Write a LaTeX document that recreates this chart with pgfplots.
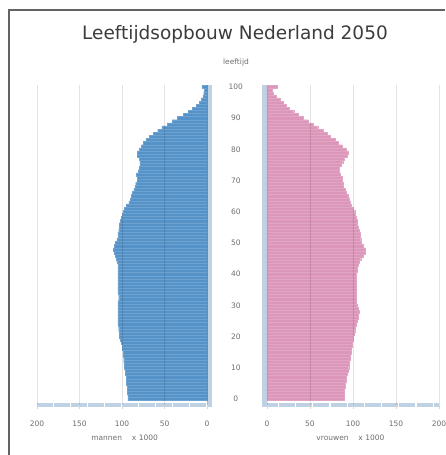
\documentclass[border=0pt]{standalone}
\usepackage{fontspec}
\setmainfont{DejaVu Sans}
\usepackage{pgfplots}
\pgfplotsset{compat=1.18}
\usepackage{pgfplotstable}

\definecolor{manblue}{RGB}{84,146,200}
\definecolor{vrouwroze}{RGB}{220,150,185}
\definecolor{strook}{RGB}{190,210,228}
\definecolor{rasters}{RGB}{215,215,215}
\definecolor{titelgrijs}{RGB}{60,60,60}
\definecolor{labelgrijs}{RGB}{110,110,110}

% leeftijd, mannen, vrouwen (x 1000)
\pgfplotstableread{
leeftijd mannen vrouwen
0 93 90
1 93 90
2 94 90
3 94 90
4 94 91
5 95 91
6 95 92
7 95 92
8 96 93
9 96 94
10 97 95
11 97 96
12 98 96
13 98 97
14 99 97
15 99 98
16 100 98
17 100 99
18 101 99
19 102 100
20 103 100
21 103 101
22 104 102
23 104 103
24 105 104
25 105 105
26 105 106
27 105 106
28 105 107
29 105 106
30 105 105
31 105 104
32 104 104
33 104 104
34 105 104
35 105 104
36 105 104
37 105 104
38 105 104
39 105 104
40 105 104
41 105 105
42 105 105
43 105 106
44 106 107
45 107 109
46 108 112
47 109 114
48 110 114
49 109 112
50 108 110
51 106 109
52 105 108
53 105 108
54 104 107
55 103 106
56 103 105
57 102 105
58 101 104
59 100 103
60 99 102
61 97 100
62 95 98
63 92 97
64 90 96
65 89 94
66 88 92
67 86 91
68 85 89
69 84 89
70 82 87
71 82 87
72 83 85
73 81 84
74 80 84
75 79 86
76 79 88
77 80 90
78 82 93
79 82 94
80 80 92
81 77 87
82 75 83
83 72 79
84 68 74
85 63 70
86 58 65
87 53 59
88 47 54
89 41 48
90 35 42
91 28 36
92 22 31
93 17 26
94 13 22
95 9 19
96 7 15
97 5 11
98 4 7
99 3 6
100 6 12
}\pyramide

\begin{document}
\begin{tikzpicture}[x=1pt,y=1pt]
\useasboundingbox (0,0) rectangle (445,455);
% kader
\draw[titelgrijs!80, line width=1.5pt] (9,0) -- (9,445) -- (445,445);

\node[titelgrijs, font=\fontsize{18.5}{21}\selectfont] at (235,421) {Leeftijdsopbouw Nederland 2050};
\node[labelgrijs, font=\fontsize{7.5}{8}\selectfont] at (236,393) {leeftijd};

\pgfplotsset{
  piramide/.style={
    scale only axis,
    height=320.4pt,
    xmin=-6, xmax=200,
    ymin=-2, ymax=100.7,
    clip=false,
    axis on top,
    axis line style={draw=none},
    xtick={0,50,...,200},
    xtick pos=left,
    xmajorgrids, grid style={black, opacity=0.11, line width=0.6pt},
    xtick style={rasters, line width=0.6pt},
    tick align=outside,
    major tick length=4pt,
    ytick={0,10,...,100},
    ytick style={draw=none},
    /pgf/number format/assume math mode=true,
    ticklabel style={labelgrijs, font=\fontsize{7.5}{8}\selectfont},
    xticklabel style={yshift=-8pt},
    xbar, bar width=1, bar shift=0pt,
    xlabel style={labelgrijs, font=\fontsize{7.5}{8}\selectfont, yshift=-2pt},
  }
}

% mannen
\begin{axis}[piramide,
  width=175.1pt,
  at={(124.6pt,210pt)}, anchor=center,
  x dir=reverse,
  yticklabels={},
  xlabel={mannen \quad x 1000},
]
\fill[strook] (axis cs:0,-2) rectangle (axis cs:-6,100.7);
\addplot[fill=manblue, draw=manblue!85!white, line width=0.25pt] table[x=mannen, y=leeftijd] {\pyramide};
\draw[strook, line width=4.5pt, dash pattern=on 15.8pt off 1.2pt] (axis cs:200,-2) -- (axis cs:-6,-2);
\end{axis}

% vrouwen
\begin{axis}[piramide,
  width=177.2pt,
  at={(350.4pt,210pt)}, anchor=center,
  yticklabel style={anchor=center, xshift=-22pt},
  xlabel={vrouwen \quad x 1000},
]
\fill[strook] (axis cs:0,-2) rectangle (axis cs:-6,100.7);
\addplot[fill=vrouwroze, draw=vrouwroze!85!white, line width=0.25pt] table[x=vrouwen, y=leeftijd] {\pyramide};
\draw[strook, line width=4.5pt, dash pattern=on 16pt off 1.2pt] (axis cs:-6,-2) -- (axis cs:200,-2);
\end{axis}
\end{tikzpicture}
\end{document}
